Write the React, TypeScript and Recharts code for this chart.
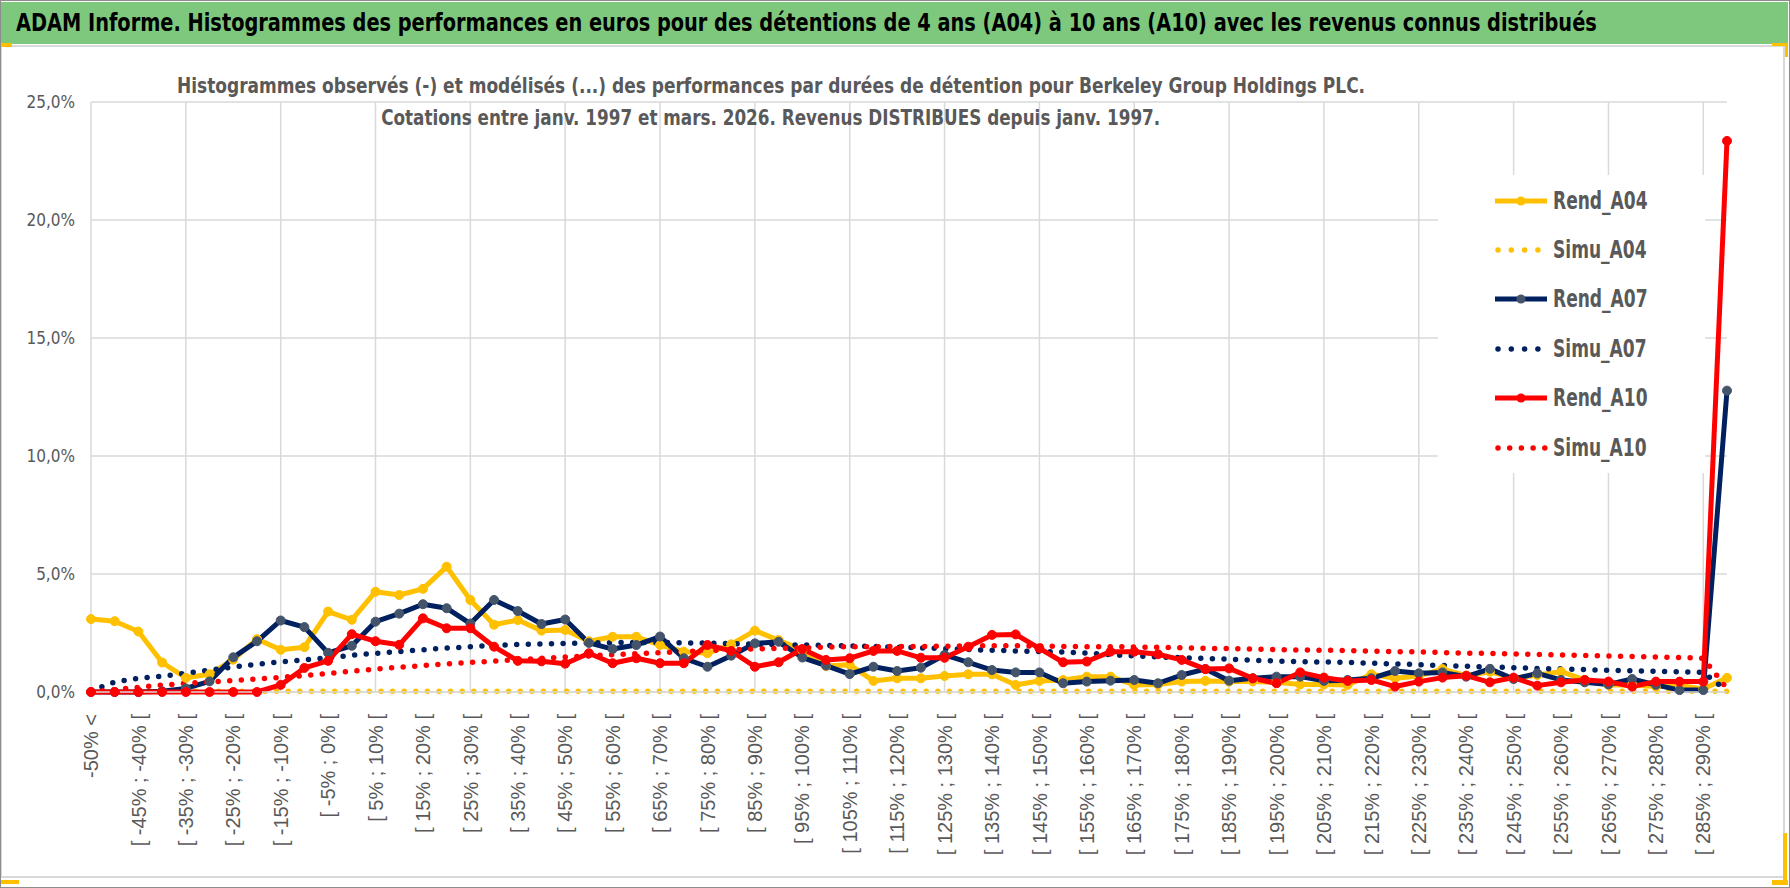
import { CartesianGrid, Legend, Line, LineChart, ReferenceLine, XAxis, YAxis } from "recharts";

// classes de performance (pas de 5 %)
const CATEGORIES = [
  "-50% <",
  "[ -50% ; -45% [", "[ -45% ; -40% [", "[ -40% ; -35% [", "[ -35% ; -30% [",
  "[ -30% ; -25% [", "[ -25% ; -20% [", "[ -20% ; -15% [", "[ -15% ; -10% [",
  "[ -10% ; -5% [", "[ -5% ; 0% [", "[ 0% ; 5% [", "[ 5% ; 10% [",
  "[ 10% ; 15% [", "[ 15% ; 20% [", "[ 20% ; 25% [", "[ 25% ; 30% [",
  "[ 30% ; 35% [", "[ 35% ; 40% [", "[ 40% ; 45% [", "[ 45% ; 50% [",
  "[ 50% ; 55% [", "[ 55% ; 60% [", "[ 60% ; 65% [", "[ 65% ; 70% [",
  "[ 70% ; 75% [", "[ 75% ; 80% [", "[ 80% ; 85% [", "[ 85% ; 90% [",
  "[ 90% ; 95% [", "[ 95% ; 100% [", "[ 100% ; 105% [", "[ 105% ; 110% [",
  "[ 110% ; 115% [", "[ 115% ; 120% [", "[ 120% ; 125% [", "[ 125% ; 130% [",
  "[ 130% ; 135% [", "[ 135% ; 140% [", "[ 140% ; 145% [", "[ 145% ; 150% [",
  "[ 150% ; 155% [", "[ 155% ; 160% [", "[ 160% ; 165% [", "[ 165% ; 170% [",
  "[ 170% ; 175% [", "[ 175% ; 180% [", "[ 180% ; 185% [", "[ 185% ; 190% [",
  "[ 190% ; 195% [", "[ 195% ; 200% [", "[ 200% ; 205% [", "[ 205% ; 210% [",
  "[ 210% ; 215% [", "[ 215% ; 220% [", "[ 220% ; 225% [", "[ 225% ; 230% [",
  "[ 230% ; 235% [", "[ 235% ; 240% [", "[ 240% ; 245% [", "[ 245% ; 250% [",
  "[ 250% ; 255% [", "[ 255% ; 260% [", "[ 260% ; 265% [", "[ 265% ; 270% [",
  "[ 270% ; 275% [", "[ 275% ; 280% [", "[ 280% ; 285% [", "[ 285% ; 290% [",
  "290% >",
];

// valeurs en %
const REND_A04 = [
  3.09, 3.0, 2.56, 1.25, 0.6, 0.75, 1.37, 2.24, 1.79, 1.9,
  3.41, 3.06, 4.25, 4.11, 4.37, 5.31, 3.9, 2.85, 3.05, 2.6,
  2.63, 2.15, 2.34, 2.34, 1.99, 1.71, 1.64, 2.02, 2.6, 2.2,
  1.78, 1.1, 1.15, 0.47, 0.58, 0.58, 0.68, 0.75, 0.75, 0.3,
  0.47, 0.51, 0.65, 0.65, 0.3, 0.32, 0.44, 0.47, 0.44, 0.45,
  0.41, 0.32, 0.32, 0.3, 0.75, 0.58, 0.68, 0.97, 0.69, 0.86,
  0.58, 0.72, 0.86, 0.51, 0.3, 0.3, 0.23, 0.28, 0.13, 0.6,
];
const SIMU_A04 = [
  0.03, 0.03, 0.03, 0.03, 0.03, 0.03, 0.03, 0.03, 0.03, 0.03,
  0.03, 0.03, 0.03, 0.03, 0.03, 0.03, 0.03, 0.03, 0.03, 0.03,
  0.03, 0.03, 0.03, 0.03, 0.03, 0.03, 0.03, 0.03, 0.03, 0.03,
  0.03, 0.03, 0.03, 0.03, 0.03, 0.03, 0.03, 0.03, 0.03, 0.03,
  0.03, 0.03, 0.03, 0.03, 0.03, 0.03, 0.03, 0.03, 0.03, 0.03,
  0.03, 0.03, 0.03, 0.03, 0.03, 0.03, 0.03, 0.03, 0.03, 0.03,
  0.03, 0.03, 0.03, 0.03, 0.03, 0.03, 0.03, 0.03, 0.03, 0.03,
];
const REND_A07 = [
  0, 0, 0, 0.03, 0.15, 0.45, 1.47, 2.15, 3.03, 2.75,
  1.66, 1.96, 2.98, 3.32, 3.72, 3.55, 2.9, 3.9, 3.43, 2.88,
  3.07, 2.08, 1.82, 1.99, 2.35, 1.43, 1.07, 1.54, 2.06, 2.13,
  1.46, 1.12, 0.76, 1.07, 0.89, 1.03, 1.57, 1.26, 0.93, 0.83,
  0.83, 0.37, 0.44, 0.48, 0.51, 0.37, 0.72, 0.97, 0.48, 0.58,
  0.65, 0.65, 0.47, 0.51, 0.58, 0.89, 0.79, 0.83, 0.65, 0.98,
  0.55, 0.79, 0.51, 0.41, 0.32, 0.55, 0.3, 0.08, 0.08, 12.77,
];
const SIMU_A07 = [
  0.05, 0.42, 0.58, 0.67, 0.79, 0.93, 1.06, 1.18, 1.28, 1.36,
  1.45, 1.56, 1.64, 1.71, 1.79, 1.86, 1.92, 1.97, 2.01, 2.04,
  2.06, 2.08, 2.09, 2.1, 2.1, 2.08, 2.07, 2.05, 2.03, 2.0,
  1.99, 1.97, 1.95, 1.93, 1.9, 1.87, 1.84, 1.8, 1.77, 1.74,
  1.72, 1.69, 1.65, 1.58, 1.53, 1.49, 1.45, 1.42, 1.39, 1.35,
  1.31, 1.29, 1.27, 1.25, 1.22, 1.19, 1.16, 1.12, 1.09, 1.06,
  1.03, 1.0, 0.98, 0.95, 0.92, 0.9, 0.88, 0.86, 0.83, 0.05,
];
const REND_A10 = [
  0, 0, 0, 0, 0, 0, 0, 0, 0.3, 1.02,
  1.32, 2.45, 2.15, 2.0, 3.12, 2.7, 2.7, 1.92, 1.32, 1.3,
  1.2, 1.64, 1.22, 1.43, 1.22, 1.22, 1.99, 1.74, 1.07, 1.26,
  1.82, 1.36, 1.43, 1.74, 1.74, 1.45, 1.45, 1.92, 2.42, 2.44,
  1.85, 1.26, 1.29, 1.71, 1.71, 1.6, 1.36, 0.97, 1.0, 0.58,
  0.37, 0.83, 0.61, 0.47, 0.51, 0.23, 0.44, 0.61, 0.69, 0.41,
  0.61, 0.27, 0.41, 0.51, 0.44, 0.23, 0.44, 0.44, 0.44, 23.35,
];
const SIMU_A10 = [
  0.0, 0.1, 0.2, 0.29, 0.37, 0.43, 0.48, 0.55, 0.62, 0.7,
  0.78, 0.88, 0.97, 1.05, 1.12, 1.19, 1.25, 1.31, 1.37, 1.43,
  1.48, 1.53, 1.58, 1.62, 1.67, 1.71, 1.75, 1.79, 1.83, 1.85,
  1.87, 1.9, 1.92, 1.92, 1.93, 1.93, 1.94, 1.95, 1.96, 1.96,
  1.95, 1.93, 1.92, 1.92, 1.91, 1.89, 1.87, 1.85, 1.84, 1.82,
  1.8, 1.78, 1.77, 1.75, 1.73, 1.71, 1.7, 1.67, 1.65, 1.63,
  1.61, 1.59, 1.57, 1.55, 1.53, 1.5, 1.48, 1.46, 1.43, 0.15,
];

const Y_TICKS = [0, 5, 10, 15, 20, 25];

const SERIES = [
  { key: "Rend_A04", values: REND_A04, color: "#FFC000", marker: "#FFC000", dotted: false },
  { key: "Simu_A04", values: SIMU_A04, color: "#FFC000", marker: "#FFC000", dotted: true },
  { key: "Rend_A07", values: REND_A07, color: "#002060", marker: "#44546A", dotted: false },
  { key: "Simu_A07", values: SIMU_A07, color: "#002060", marker: "#002060", dotted: true },
  { key: "Rend_A10", values: REND_A10, color: "#FF0000", marker: "#FF0000", dotted: false },
  { key: "Simu_A10", values: SIMU_A10, color: "#FF0000", marker: "#FF0000", dotted: true },
];

const data = CATEGORIES.map((cat, i) => {
  const row: Record<string, string | number> = { cat };
  SERIES.forEach((s) => {
    row[s.key] = s.values[i];
  });
  return row;
});

const GRID_CATS = CATEGORIES.filter((_, i) => i % 4 === 0);

const NARROW = "'Liberation Sans Narrow', 'Arial Narrow', 'DejaVu Sans Condensed', sans-serif";
const SANS = "'Liberation Sans', Arial, sans-serif";
const GREY = "#595959";
const DOTS = "0 11.6";

const fmtPct = (v: number) => `${v.toFixed(1).replace(".", ",")}%`;

const XTick = ({ x, y, payload }: any) => (
  <text
    x={x}
    y={y + 22}
    transform={`rotate(-90, ${x}, ${y + 22})`}
    textAnchor="end"
    dy="0.36em"
    fill={GREY}
    fontSize={20}
    fontFamily={SANS}
  >
    {payload.value}
  </text>
);

// légende dans l'ordre des séries Excel
const LegendBox = () => (
  <div style={{ background: "#fff", width: 267, height: 298, paddingTop: 1, boxSizing: "border-box" }}>
    {SERIES.map((s) => (
      <div key={s.key} style={{ display: "flex", alignItems: "center", height: 49.4, paddingLeft: 57 }}>
        <svg width={58} height={20} style={{ display: "block", flex: "none" }}>
          {s.dotted ? (
            <line x1={3} y1={10} x2={50} y2={10} stroke={s.color} strokeWidth={5.5}
              strokeLinecap="round" strokeDasharray={s.key === "Simu_A10" ? "0 11.7" : "0 13.3"} />
          ) : (
            <>
              <line x1={0} y1={10} x2={52} y2={10} stroke={s.color} strokeWidth={5} />
              <circle cx={26} cy={10} r={4.5} fill={s.marker} />
            </>
          )}
        </svg>
        <span
          style={{
            display: "inline-block", transform: "scaleX(0.79)", transformOrigin: "left center",
            fontFamily: NARROW, fontWeight: 700, fontSize: 24, color: GREY, lineHeight: 1, whiteSpace: "nowrap",
          }}
        >
          {s.key}
        </span>
      </div>
    ))}
  </div>
);

export default function App() {
  return (
    <div style={{ position: "relative", width: 1790, height: 888, background: "#fff", overflow: "hidden" }}>
      <style>{"body{margin:0}"}</style>
      {/* cadre du graphique */}
      <div style={{ position: "absolute", left: 0, top: 45, width: 1785, height: 833, border: "2px solid #d9d9d9", boxSizing: "border-box" }} />
      <div style={{ position: "absolute", left: 0, top: 0 }}>
        <LineChart width={1790} height={888} data={data} margin={{ top: 102, right: 63, bottom: 0, left: 0 }}>
          <CartesianGrid vertical={false} stroke="#d9d9d9" strokeWidth={1.5} />
          {GRID_CATS.map((c) => (
            <ReferenceLine key={c} x={c} stroke="#d9d9d9" strokeWidth={1.5} />
          ))}
          <XAxis
            dataKey="cat"
            scale="point"
            interval={1}
            height={196}
            tick={<XTick />}
            tickLine={false}
            tickSize={0}
            tickMargin={0}
            axisLine={{ stroke: "#d9d9d9", strokeWidth: 1.5 }}
          />
          <YAxis
            width={91}
            domain={[0, 25]}
            ticks={Y_TICKS}
            tickFormatter={fmtPct}
            axisLine={false}
            tickLine={false}
            tickSize={0}
            tickMargin={16}
            tick={{ fill: GREY, fontSize: 17, fontFamily: NARROW }}
          />
          <Legend
            layout="vertical"
            align="center"
            verticalAlign="middle"
            content={<LegendBox />}
            wrapperStyle={{ left: 1438, top: 175, width: 267, height: 298 }}
          />
          {SERIES.map((s) =>
            s.dotted ? (
              <Line
                key={s.key}
                dataKey={s.key}
                name={s.key}
                type="linear"
                stroke={s.color}
                strokeWidth={5.5}
                strokeDasharray={DOTS}
                strokeLinecap="round"
                dot={false}
                activeDot={false}
                isAnimationActive={false}
              />
            ) : (
              <Line
                key={s.key}
                dataKey={s.key}
                name={s.key}
                type="linear"
                stroke={s.color}
                strokeWidth={5}
                strokeLinejoin="round"
                dot={{ r: 4.5, fill: s.marker, stroke: s.marker, strokeWidth: 1 }}
                activeDot={false}
                isAnimationActive={false}
              />
            )
          )}
        </LineChart>
      </div>
      {/* bandeau titre */}
      <div
        style={{
          position: "absolute", left: 0, top: 2, width: 1788, height: 42, background: "#7ec87e",
          lineHeight: "42px", paddingLeft: 16, boxSizing: "border-box", whiteSpace: "nowrap", overflow: "hidden",
        }}
      >
        <span
          style={{
            display: "inline-block", transform: "scaleX(0.86)", transformOrigin: "left center",
            fontFamily: NARROW, fontWeight: 700, fontSize: 25, color: "#000",
          }}
        >
          ADAM Informe. Histogrammes des performances en euros pour des détentions de 4 ans (A04) à 10 ans (A10) avec les revenus connus distribués
        </span>
      </div>
      {/* titre du graphique */}
      <div
        style={{
          position: "absolute", left: 0, top: 70, width: 1542, textAlign: "center",
          fontFamily: NARROW, fontWeight: 700, fontSize: 21, color: GREY, lineHeight: "32px", whiteSpace: "nowrap",
        }}
      >
        <div>
          <span style={{ display: "inline-block", transform: "scaleX(0.9)" }}>
            Histogrammes observés (-) et modélisés (...) des performances par durées de détention pour Berkeley Group Holdings PLC.
          </span>
        </div>
        <div>
          <span style={{ display: "inline-block", transform: "scaleX(0.89)" }}>
            Cotations entre janv. 1997 et mars. 2026. Revenus DISTRIBUES depuis janv. 1997.
          </span>
        </div>
      </div>
      {/* poignées de sélection */}
      <div style={{ position: "absolute", left: 0, top: 43, width: 12, height: 4, background: "#FFC000" }} />
      <div style={{ position: "absolute", left: 1772, top: 43, width: 16, height: 3, background: "#FFC000" }} />
      <div style={{ position: "absolute", left: 1785, top: 43, width: 3, height: 14, background: "#FFC000" }} />
      <div style={{ position: "absolute", left: 1783, top: 833, width: 4, height: 52, background: "#FFC000" }} />
      <div style={{ position: "absolute", left: 1772, top: 880, width: 16, height: 5, background: "#FFC000" }} />
      <div style={{ position: "absolute", left: 0, top: 880, width: 19, height: 4, background: "#FFC000" }} />
      {/* bordure extérieure */}
      <div style={{ position: "absolute", left: 0, top: 0, width: 1790, height: 888, border: "1px solid #8c8c8c", boxSizing: "border-box", pointerEvents: "none" }} />
    </div>
  );
}
